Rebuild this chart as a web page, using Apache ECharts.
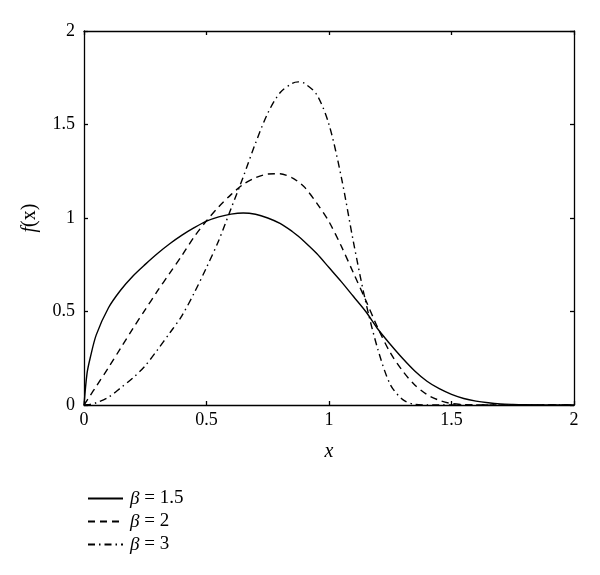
<!DOCTYPE html>
<html><head><meta charset="utf-8">
<script src="https://cdn.jsdelivr.net/npm/echarts@6/dist/echarts.min.js"></script>
<style>html,body{margin:0;padding:0;background:#fff}#c{width:600px;height:575px}</style>
</head><body><div id="c"></div>
<script>
const xValues = [0, 0.0125, 0.025, 0.05, 0.1, 0.15, 0.2, 0.25, 0.3, 0.35, 0.4, 0.45, 0.5, 0.55, 0.6, 0.65, 0.7, 0.75, 0.8, 0.85, 0.875, 0.9, 0.95, 1.0, 1.05, 1.1, 1.15, 1.2, 1.25, 1.3, 1.35, 1.4, 1.45, 1.5, 1.55, 1.6, 1.65, 1.7, 1.75, 1.8, 1.85, 1.9, 1.95, 2.0];
const beta15 = [0, 0.17, 0.25, 0.375, 0.52, 0.615, 0.69, 0.752, 0.81, 0.862, 0.908, 0.948, 0.983, 1.006, 1.021, 1.027, 1.02, 1.0, 0.971, 0.928, 0.902, 0.873, 0.81, 0.735, 0.66, 0.58, 0.5, 0.405, 0.325, 0.25, 0.182, 0.127, 0.087, 0.057, 0.035, 0.021, 0.012, 0.006, 0.003, 0.001, 0, 0, 0, 0];
const beta2 = [0, 0.025, 0.05, 0.1, 0.2, 0.305, 0.41, 0.51, 0.61, 0.705, 0.8, 0.9, 0.985, 1.06, 1.125, 1.18, 1.215, 1.235, 1.237, 1.215, 1.193, 1.165, 1.08, 0.98, 0.85, 0.705, 0.56, 0.41, 0.28, 0.183, 0.107, 0.056, 0.025, 0.008, 0.002, 0, 0, 0, 0, 0, 0, 0, 0, 0];
const beta3 = [0, 0.001, 0.003, 0.012, 0.042, 0.092, 0.145, 0.21, 0.295, 0.385, 0.478, 0.6, 0.735, 0.88, 1.05, 1.22, 1.4, 1.56, 1.67, 1.72, 1.728, 1.72, 1.66, 1.5, 1.22, 0.87, 0.55, 0.295, 0.11, 0.03, 0.003, 0, 0, 0, 0, 0, 0, 0, 0, 0, 0, 0, 0, 0];
const xTicks = [0, 0.5, 1, 1.5, 2];
const seriesNames = ['1.5', '2', '3'];

const FONT = '"Liberation Serif", "DejaVu Serif", serif';
const pairs = ys => xValues.map((x, i) => [x, ys[i]]);
const axisCommon = {
  type: 'value', min: 0, max: 2, interval: 0.5,
  splitLine: {show: false},
  axisLine: {show: true, onZero: false, lineStyle: {color: '#000', width: 1.3}},
  axisTick: {show: true, inside: true, length: 4, lineStyle: {color: '#000', width: 1.3}}
};
const lbl = {color: '#000', fontFamily: FONT, fontSize: 18};
const chart = echarts.init(document.getElementById('c'));
chart.setOption({
  animation: false,
  grid: {left: 84, right: 26, top: 31, bottom: 170},
  xAxis: [
    Object.assign({}, axisCommon, {position: 'bottom', axisLabel: Object.assign({margin: 6, formatter: v => xTicks.includes(v) ? String(v) : ''}, lbl),
      name: 'x', nameLocation: 'middle', nameGap: 37, nameTextStyle: {color: '#000', fontFamily: FONT, fontSize: 20, fontStyle: 'italic'}}),
    Object.assign({}, axisCommon, {position: 'top', axisLabel: {show: false}})
  ],
  yAxis: [
    Object.assign({}, axisCommon, {position: 'left', axisLabel: Object.assign({margin: 9}, lbl),
      name: '{i|f}(x)', nameLocation: 'middle', nameGap: 44,
      nameTextStyle: {color: '#000', fontFamily: FONT, fontSize: 20,
        rich: {i: {fontStyle: 'italic', fontFamily: FONT, fontSize: 20, color: '#000'}}}}),
    Object.assign({}, axisCommon, {position: 'right', axisLabel: {show: false}})
  ],
  legend: {
    orient: 'vertical', left: 82, top: 484, itemWidth: 35, itemHeight: 14, itemGap: 4,
    data: seriesNames.map(n => 'β = ' + n),
    itemStyle: {opacity: 0},
    formatter: name => '{i|β}' + name.slice(1),
    textStyle: {color: '#000', fontFamily: FONT, fontSize: 19, padding: [0, 0, 0, 2],
      rich: {i: {fontStyle: 'italic', fontFamily: FONT, fontSize: 19, color: '#000'}}}
  },
  series: [
    {name: 'β = 1.5', type: 'line', symbol: 'none', smooth: 0.3, data: pairs(beta15), lineStyle: {color: '#000', width: 1.4, type: 'solid'}, itemStyle: {color: '#000'}},
    {name: 'β = 2', type: 'line', symbol: 'none', smooth: 0.3, data: pairs(beta2), lineStyle: {color: '#000', width: 1.4, type: [7, 5]}, itemStyle: {color: '#000'}},
    {name: 'β = 3', type: 'line', symbol: 'none', smooth: 0.3, data: pairs(beta3), lineStyle: {color: '#000', width: 1.4, type: [7, 4, 1.5, 4]}, itemStyle: {color: '#000'}}
  ]
});
</script>
</body></html>
